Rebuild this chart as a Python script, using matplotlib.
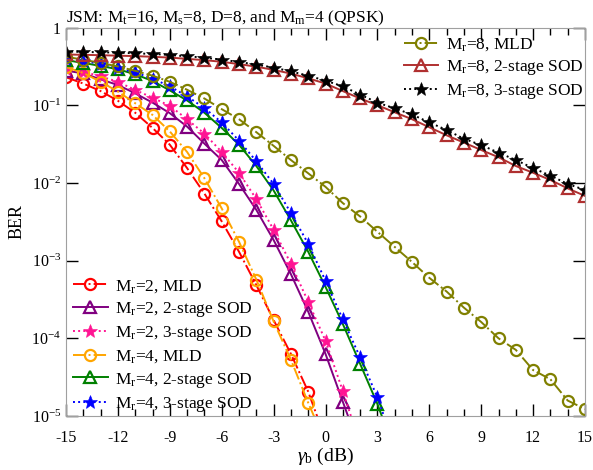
import matplotlib
matplotlib.use("Agg")
import matplotlib.pyplot as plt
import numpy as np

plt.rcParams["font.family"] = ["Liberation Serif", "DejaVu Serif"]
plt.rcParams["mathtext.fontset"] = "custom"
plt.rcParams["mathtext.rm"] = "Liberation Serif"
plt.rcParams["mathtext.it"] = "Liberation Serif:italic"
plt.rcParams["axes.unicode_minus"] = False

snr_db = np.arange(-15, 16)

# BER curves (one value per dB)
ber_mr2_mld = [0.229, 0.19, 0.152, 0.114, 0.08, 0.051, 0.031, 0.0155, 7.3e-3, 3.2e-3,
               1.3e-3, 4.85e-4, 1.72e-4, 6.3e-5, 2.06e-5, 5e-6]
ber_mr2_sod2 = [0.278, 0.257, 0.215, 0.182, 0.142, 0.108, 0.079, 0.053, 0.032, 0.0197,
                9.7e-3, 4.5e-3, 1.84e-3, 6.7e-4, 2.2e-4, 6.3e-5, 1.53e-5, 3.7e-6]
ber_mr2_sod3 = [0.29, 0.27, 0.235, 0.2, 0.157, 0.125, 0.098, 0.066, 0.043, 0.025,
                0.0135, 6.2e-3, 2.5e-3, 9.1e-4, 2.95e-4, 9.3e-5, 2.1e-5, 4.3e-6]
ber_mr4_mld = [0.31, 0.26, 0.2, 0.15, 0.106, 0.075, 0.046, 0.025, 0.0115, 4.7e-3,
               1.75e-3, 5.7e-4, 1.65e-4, 5.3e-5, 1.48e-5, 4.5e-6]
ber_mr4_sod2 = [0.38, 0.35, 0.32, 0.29, 0.25, 0.205, 0.155, 0.115, 0.08, 0.051,
                0.031, 0.0165, 8e-3, 3.3e-3, 1.3e-3, 4.6e-4, 1.53e-4, 4.7e-5, 1.43e-5, 3.5e-6]
ber_mr4_sod3 = [0.39, 0.37, 0.34, 0.30, 0.265, 0.22, 0.175, 0.13, 0.092, 0.06,
                0.035, 0.019, 9.7e-3, 4.1e-3, 1.65e-3, 5.5e-4, 1.75e-4, 5.7e-5, 1.74e-5, 4e-6]
ber_mr8_mld = [0.42, 0.385, 0.35, 0.315, 0.277, 0.24, 0.2, 0.158, 0.122, 0.089,
               0.066, 0.045, 0.030, 0.0197, 0.0133, 8.9e-3, 5.5e-3, 3.7e-3, 2.35e-3, 1.5e-3,
               9.6e-4, 6.0e-4, 4.0e-4, 2.48e-4, 1.62e-4, 1.0e-4, 7.1e-5, 3.9e-5, 2.97e-5,
               1.58e-5, 1.23e-5]
ber_mr8_sod2 = [0.45, 0.445, 0.44, 0.434, 0.428, 0.42, 0.41, 0.395, 0.38, 0.362,
                0.338, 0.313, 0.285, 0.255, 0.222, 0.19, 0.152, 0.122, 0.1, 0.081,
                0.066, 0.052, 0.041, 0.033, 0.0265, 0.0214, 0.0165, 0.0135, 0.0109,
                8.5e-3, 6.8e-3]
ber_mr8_sod3 = [0.49, 0.485, 0.48, 0.475, 0.465, 0.457, 0.443, 0.425, 0.41, 0.385,
                0.36, 0.333, 0.305, 0.272, 0.24, 0.207, 0.175, 0.137, 0.108, 0.091,
                0.076, 0.060, 0.048, 0.037, 0.0307, 0.0245, 0.0197, 0.0155, 0.0124,
                9.7e-3, 8.1e-3]

x_ticks = [-15, -12, -9, -6, -3, 0, 3, 6, 9, 12, 15]
y_ticks = [1, 1e-1, 1e-2, 1e-3, 1e-4, 1e-5]
y_tick_labels = ["1", r"10$^{-1}$", r"10$^{-2}$", r"10$^{-3}$", r"10$^{-4}$", r"10$^{-5}$"]

# (data, label, color, linestyle, marker)
series_low = [
    (ber_mr2_mld, r"M$_\mathrm{r}$=2, MLD", "#ff0000", "-.", "o"),
    (ber_mr2_sod2, r"M$_\mathrm{r}$=2, 2-stage SOD", "#800080", "-", "^"),
    (ber_mr2_sod3, r"M$_\mathrm{r}$=2, 3-stage SOD", "#ff1493", ":", "*"),
    (ber_mr4_mld, r"M$_\mathrm{r}$=4, MLD", "#ffa500", "-.", "o"),
    (ber_mr4_sod2, r"M$_\mathrm{r}$=4, 2-stage SOD", "#008000", "-", "^"),
    (ber_mr4_sod3, r"M$_\mathrm{r}$=4, 3-stage SOD", "#0000ff", ":", "*"),
]
series_high = [
    (ber_mr8_mld, r"M$_\mathrm{r}$=8, MLD", "#808000", "-.", "o"),
    (ber_mr8_sod2, r"M$_\mathrm{r}$=8, 2-stage SOD", "#b03030", "-", "^"),
    (ber_mr8_sod3, r"M$_\mathrm{r}$=8, 3-stage SOD", "#000000", ":", "*"),
]

fig = plt.figure(figsize=(5.93, 4.70), dpi=100)
ax = fig.add_axes([66 / 593, 1 - 416 / 470, (585 - 66) / 593, (416 - 27.5) / 470])


def draw(series):
    handles = []
    for data, label, color, ls, marker in series:
        x = snr_db[:len(data)]
        if marker == "*":
            kw = dict(markersize=10, markerfacecolor=color, markeredgecolor=color,
                      markeredgewidth=0.4)
        else:
            kw = dict(markersize=8, markerfacecolor="none", markeredgecolor=color,
                      markeredgewidth=1.6)
        (h,) = ax.plot(x, data, color=color, linestyle=ls, linewidth=1.4,
                       marker=marker, label=label, **kw)
        handles.append(h)
    return handles


h_low = draw(series_low)
h_high = draw(series_high)

ax.set_yscale("log")
ax.set_xlim(-15, 15)
ax.set_ylim(1e-5, 1)
ax.set_xticks(x_ticks)
ax.set_xticks(snr_db, minor=True)
ax.set_yticks(y_ticks)
ax.set_yticklabels(y_tick_labels)
ax.yaxis.set_minor_locator(matplotlib.ticker.NullLocator())
ax.tick_params(axis="both", which="both", direction="in", top=True, right=True,
               labelsize=11.5, color="black")
ax.tick_params(axis="both", which="major", length=8.5, width=1)
ax.tick_params(axis="x", which="major", pad=10)
ax.tick_params(axis="x", which="minor", length=5, width=1)
for s in ax.spines.values():
    s.set_color("#a0a0a0")

ax.set_xlabel(r"$\gamma_\mathrm{b}$ (dB)", fontsize=14, labelpad=0)
ax.set_ylabel("BER", fontsize=13, labelpad=4)
ax.set_title("JSM: M$_\\mathrm{t}$=16, M$_\\mathrm{s}$=8, D=8, and M$_\\mathrm{m}$=4 (QPSK)",
             fontsize=12.5, loc="left", pad=4)

leg1 = ax.legend(handles=h_high, loc="upper right", bbox_to_anchor=(1.015, 1.0),
                 frameon=False, fontsize=12.5, handlelength=2.0, labelspacing=0.3,
                 borderaxespad=0.1, handletextpad=0.45)
ax.add_artist(leg1)
ax.legend(handles=h_low, loc="lower left", bbox_to_anchor=(0.0, -0.012),
          frameon=False, fontsize=12.5, handlelength=2.0, labelspacing=0.3,
          borderaxespad=0.0, handletextpad=0.45)

fig.savefig("out.png", dpi=100)
